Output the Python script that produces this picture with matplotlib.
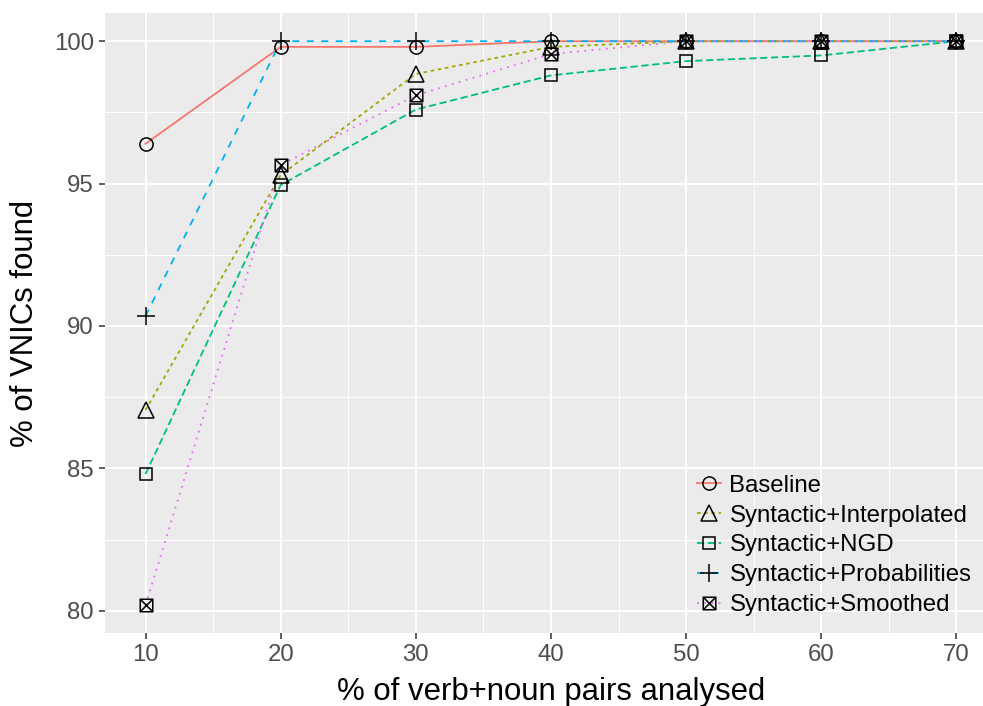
import matplotlib
matplotlib.use("Agg")
import matplotlib.pyplot as plt
from matplotlib.path import Path
from matplotlib.lines import Line2D
from matplotlib.ticker import MultipleLocator

plt.rcParams['font.family'] = ['Liberation Sans', 'DejaVu Sans']

x = [10, 20, 30, 40, 50, 60, 70]
series_names = ["Baseline", "Syntactic+Interpolated", "Syntactic+NGD",
                "Syntactic+Probabilities", "Syntactic+Smoothed"]
baseline = [96.4, 99.8, 99.8, 100.0, 100.0, 100.0, 100.0]
interpolated = [87.05, 95.3, 98.85, 99.8, 100.0, 100.0, 100.0]
ngd = [84.8, 94.95, 97.6, 98.8, 99.3, 99.5, 100.0]
probabilities = [90.35, 100.0, 100.0, 100.0, 100.0, 100.0, 100.0]
smoothed = [80.2, 95.65, 98.1, 99.55, 100.0, 100.0, 100.0]
xticks = [10, 20, 30, 40, 50, 60, 70]
yticks = [80, 85, 90, 95, 100]

values = [baseline, interpolated, ngd, probabilities, smoothed]
colors = ["#F8766D", "#A3A500", "#00BF7D", "#00B0F6", "#E76BF3"]
dashes = ["-", (0, (2, 2)), (0, (4, 2)), (0, (4, 4)), (0, (1, 3))]

sqx = Path([(-1, -1), (1, -1), (1, 1), (-1, 1), (-1, -1), (-1, -1), (1, 1), (-1, 1), (1, -1)],
           [Path.MOVETO, Path.LINETO, Path.LINETO, Path.LINETO, Path.CLOSEPOLY,
            Path.MOVETO, Path.LINETO, Path.MOVETO, Path.LINETO])
markers = ["o", "^", "s", "+", sqx]
msizes = [9.5, 11, 9, 13, 9]

W, H = 983, 706
fig = plt.figure(figsize=(W / 100, H / 100), dpi=100)
L, R, T, B = 105, 997, 13, 633
ax = fig.add_axes([L / W, (H - B) / H, (R - L) / W, (B - T) / H])
ax.set_facecolor("#EBEBEB")
for s in ax.spines.values():
    s.set_visible(False)

ax.set_xlim(7, 73)
ax.set_ylim(79.22, 100.99)
ax.set_xticks(xticks)
ax.set_yticks(yticks)
ax.xaxis.set_minor_locator(MultipleLocator(5))
ax.yaxis.set_minor_locator(MultipleLocator(2.5))
ax.grid(which="major", color="white", lw=1.4)
ax.grid(which="minor", color="white", lw=0.7)
ax.set_axisbelow(True)
ax.tick_params(which="major", length=4.5, width=1.1, color="#333333",
               labelsize=17.3, labelcolor="#4D4D4D", pad=3.5)
ax.tick_params(which="minor", length=0)

for v, c, d in zip(values, colors, dashes):
    ax.plot(x, v, color=c, lw=1.3, linestyle=d, zorder=2)
for v, m, ms in zip(values, markers, msizes):
    ax.plot(x, v, linestyle="none", marker=m, markersize=ms, markerfacecolor="none",
            markeredgecolor="black", markeredgewidth=1.1, zorder=3)

ax.set_xlabel("% of verb+noun pairs analysed", fontsize=22.4, color="black", labelpad=8)
ax.set_ylabel("% of VNICs found", fontsize=22.4, color="black", labelpad=10)

handles = []
for c, d, m, ms in zip(colors, dashes, markers, msizes):
    handles.append(Line2D([0], [0], color=c, lw=1.3, linestyle=d, marker=m, markersize=ms,
                          markerfacecolor="none", markeredgecolor="black", markeredgewidth=1.1))
leg = fig.legend(handles, series_names, loc="center left",
                 bbox_to_anchor=(697 / W, (H - 545.5) / H), frameon=False,
                 fontsize=17.3, handlelength=1.0, handletextpad=0.35,
                 labelspacing=0.33, borderpad=0, borderaxespad=0)

fig.savefig("out.png", dpi=100)
